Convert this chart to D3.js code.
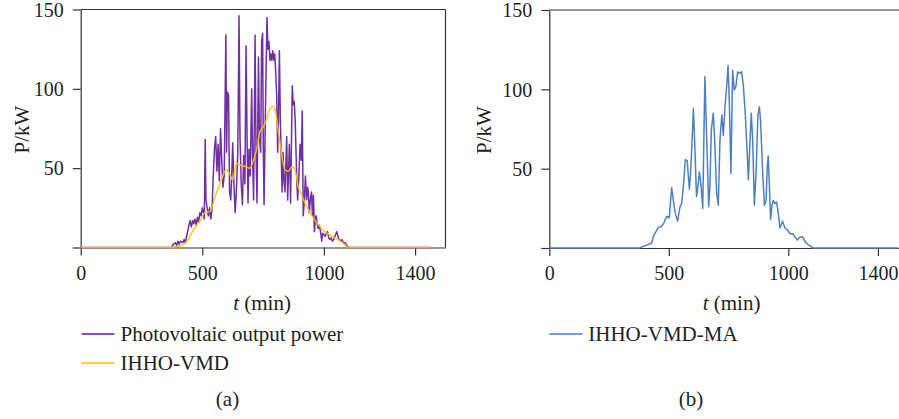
<!DOCTYPE html>
<html>
<head>
<meta charset="utf-8">
<script src="https://cdn.jsdelivr.net/npm/d3@7/dist/d3.min.js"></script>
<style>
  html, body { margin: 0; padding: 0; background: #fff; }
  svg { display: block; }
  text { font-family: "Liberation Serif", "DejaVu Serif", serif; fill: #231f20; }
</style>
</head>
<body>
<svg id="chart" width="899" height="419"></svg>
<script>
// ---------- DATA ----------
// Photovoltaic output power (panel a), minutes -> kW
const pvTime = [0, 375, 380, 390, 395, 400, 405, 410, 420, 425, 430, 437, 445, 450, 455, 460, 465, 470, 475, 480, 485, 490, 495, 500, 505, 508, 512, 515, 520, 525, 530, 535, 540, 545, 550, 555, 560, 565, 570, 575, 580, 585, 590, 597, 600, 603, 608, 612, 617, 621, 625, 630, 635, 640, 646, 651, 655, 660, 665, 670, 675, 680, 684, 688, 692, 697, 703, 707, 711, 717, 721, 725, 731, 735, 740, 744, 748, 751, 754, 758, 761, 766, 770, 774, 778, 782, 786, 790, 794, 798, 802, 806, 810, 813, 817, 821, 825, 828, 832, 836, 840, 844, 847, 851, 855, 858, 863, 866, 870, 874, 878, 882, 885, 889, 892, 897, 902, 907, 911, 915, 919, 924, 929, 933, 936, 940, 944, 949, 953, 957, 961, 965, 968, 972, 977, 981, 984, 988, 991, 995, 1000, 1005, 1010, 1015, 1020, 1025, 1030, 1035, 1040, 1048, 1053, 1058, 1063, 1070, 1075, 1080, 1088, 1095, 1102, 1440];
const pvPower = [0, 0, 2, 3, 1, 4, 2, 4, 3, 5, 3, 8, 14, 17, 13, 17, 15, 18, 14, 19, 16, 22, 20, 25, 22, 18, 68, 30, 25, 20, 25, 18, 24, 45, 62, 70, 48, 65, 42, 75, 55, 38, 45, 134, 60, 98, 96, 35, 30, 45, 66, 40, 22, 35, 60, 146, 70, 40, 27, 58, 40, 127, 70, 28, 62, 45, 100, 55, 30, 134, 60, 28, 120, 70, 60, 130, 135, 60, 27, 70, 100, 145, 125, 130, 118, 122, 118, 124, 118, 122, 110, 95, 60, 80, 124, 80, 55, 35, 60, 42, 35, 55, 70, 30, 50, 65, 28, 60, 102, 90, 92, 80, 62, 40, 30, 45, 65, 55, 86, 20, 28, 45, 30, 38, 35, 22, 30, 35, 20, 33, 10, 18, 20, 15, 12, 14, 12, 8, 4, 9, 8, 7, 9, 10, 6, 5, 6, 4, 5, 8, 10, 7, 5, 4, 5, 3, 3, 1, 0, 0];

// IHHO-VMD reconstruction (panel a)
const vmdTime = [0, 375, 385, 408, 436, 463, 491, 511, 532, 552, 573, 598, 614, 625, 641, 655, 676, 696, 710, 724, 737, 751, 765, 779, 790, 799, 813, 827, 840, 854, 870, 881, 895, 909, 922, 943, 964, 984, 1012, 1039, 1059, 1080, 1101, 1440];
const vmdPower = [0, 0, 0.5, 1, 3.7, 11, 17, 22, 22.6, 32, 40, 49, 46, 42.5, 53, 52, 51, 50, 55, 62, 73, 76, 81, 88, 89, 87, 73, 58, 49, 48, 51, 49, 38, 33, 28, 22, 17, 13, 9, 6.5, 5, 2.6, 0, 0];

// IHHO-VMD-MA (panel b)
const maTime = [0, 379, 393, 410, 428, 435, 445, 456, 470, 480, 491, 502, 512, 519, 527, 537, 547, 554, 561, 569, 577, 586, 591, 597, 603, 608, 616, 622, 628, 635, 642, 651, 658, 667, 672, 678, 686, 692, 700, 707, 714, 722, 728, 735, 742, 748, 753, 760, 767, 774, 781, 788, 795, 805, 812, 819, 826, 833, 840, 845, 851, 858, 865, 873, 879, 884, 893, 900, 907, 912, 916, 921, 926, 932, 937, 944, 951, 958, 965, 976, 986, 996, 1007, 1018, 1028, 1038, 1049, 1060, 1070, 1084, 1105, 1460];
const maPower = [0, 0, 1, 2, 3, 7, 10, 13, 13.6, 16, 20, 19, 38, 30, 22, 17, 26, 28, 39, 55.6, 55, 37, 47, 66, 88, 68, 32.5, 39, 48, 39, 25, 108, 72, 26, 39, 74.5, 85, 68, 35, 27, 68, 84, 71, 89, 101.7, 115, 93, 47, 112, 99.6, 102, 111, 110, 111, 102, 87, 66, 43, 68, 85, 68, 27, 47, 84, 89, 80, 47, 27, 30, 51, 58, 39, 18, 27, 30, 28, 29, 22, 12.6, 16.8, 12.6, 11.5, 9, 9, 7, 5, 7, 7, 4, 2, 0, 0];

const yTickValues = [0, 50, 100, 150];
const yTickLabels = ["", "50", "100", "150"];
const xTickValues = [0, 500, 1000, 1375];
const xTickLabels = ["0", "500", "1000", "1400"];

// ---------- DRAWING ----------
const svg = d3.select("#chart");
const AXIS = "#333";

function panel(cfg) {
  const x = d3.scaleLinear().domain([0, 1500]).range([cfg.x0, cfg.x1]);
  const y = d3.scaleLinear().domain([0, 150]).range([cfg.yb, cfg.yt]);
  const g = svg.append("g");

  // frame (top and right)
  g.append("line").attr("x1", cfg.x0).attr("x2", cfg.x1).attr("y1", cfg.yt).attr("y2", cfg.yt)
    .attr("stroke", AXIS).attr("stroke-width", 1.2);
  g.append("line").attr("x1", cfg.x1).attr("x2", cfg.x1).attr("y1", cfg.yt).attr("y2", cfg.yb)
    .attr("stroke", AXIS).attr("stroke-width", 1.2);

  const yAxis = d3.axisLeft(y).tickValues(yTickValues)
    .tickFormat((d, i) => yTickLabels[i]).tickSize(8).tickPadding(9).tickSizeOuter(0);
  const ya = g.append("g").attr("transform", `translate(${cfg.x0},0)`).call(yAxis);
  ya.selectAll("path, line").attr("stroke", AXIS).attr("stroke-width", 1.2);
  ya.selectAll("text").attr("font-size", 20).attr("dy", "0.34em")
    .style("font-family", '"Liberation Serif", serif').attr("fill", "#231f20");

  const xAxis = d3.axisBottom(x).tickValues(xTickValues)
    .tickFormat((d, i) => xTickLabels[i]).tickSize(8).tickPadding(10).tickSizeOuter(0);
  const xa = g.append("g").attr("transform", `translate(0,${cfg.yb})`).call(xAxis);
  xa.selectAll("path, line").attr("stroke", AXIS).attr("stroke-width", 1.2);
  xa.selectAll("text").attr("font-size", 20).attr("dy", "0.71em")
    .style("font-family", '"Liberation Serif", serif').attr("fill", "#231f20");

  // series
  cfg.series.forEach(s => {
    const pts = s.t.map((t, i) => [t, s.v[i]]);
    const line = d3.line().x(d => x(d[0])).y(d => y(d[1])).curve(s.curve || d3.curveLinear);
    g.append("path").datum(pts).attr("d", line)
      .attr("fill", "none").attr("stroke", s.color).attr("stroke-width", s.w)
      .attr("stroke-opacity", s.op || 1).attr("stroke-linejoin", "round");
  });

  // axis titles
  g.append("text").attr("transform", `translate(${cfg.ylabX},${(cfg.yt + cfg.yb) / 2 + 1}) rotate(-90)`)
    .attr("text-anchor", "middle").attr("font-size", 21).text("P/kW");
  const xt = g.append("text").attr("x", cfg.xtitleX).attr("y", 310).attr("text-anchor", "middle").attr("font-size", 21);
  xt.append("tspan").attr("font-style", "italic").text("t");
  xt.append("tspan").text(" (min)");

  // legend
  cfg.legend.forEach((L, i) => {
    const ly = 334 + i * 29;
    g.append("line").attr("x1", cfg.legX).attr("x2", cfg.legX + 33).attr("y1", ly).attr("y2", ly)
      .attr("stroke", L.color).attr("stroke-width", 2);
    g.append("text").attr("x", cfg.legX + 39).attr("y", ly + 6.5).attr("font-size", 21).text(L.label);
  });

  g.append("text").attr("x", cfg.capX).attr("y", 406).attr("text-anchor", "middle").attr("font-size", 21).text(cfg.cap);
}

const PURPLE = "#7030A0", GOLD = "#FFC000", BLUE = "#4F81BD";

panel({
  x0: 80.7, x1: 445.5, yb: 247.5, yt: 9.5, ylabX: 28.5, xtitleX: 262, legX: 81.5, capX: 227.5, cap: "(a)",
  series: [
    { t: pvTime, v: pvPower, color: PURPLE, w: 1.5 },
    { t: vmdTime, v: vmdPower, color: GOLD, w: 1.5, op: 0.9, curve: d3.curveMonotoneX }
  ],
  legend: [
    { label: "Photovoltaic output power", color: "#8a4fc0" },
    { label: "IHHO-VMD", color: "#ffcc40" }
  ]
});

panel({
  x0: 549.3, x1: 907.8, yb: 248, yt: 10, ylabX: 491, xtitleX: 731.5, legX: 549.3, capX: 691, cap: "(b)",
  series: [
    { t: maTime, v: maPower, color: BLUE, w: 1.5 }
  ],
  legend: [
    { label: "IHHO-VMD-MA", color: "#6f9bd3" }
  ]
});
</script>
</body>
</html>
